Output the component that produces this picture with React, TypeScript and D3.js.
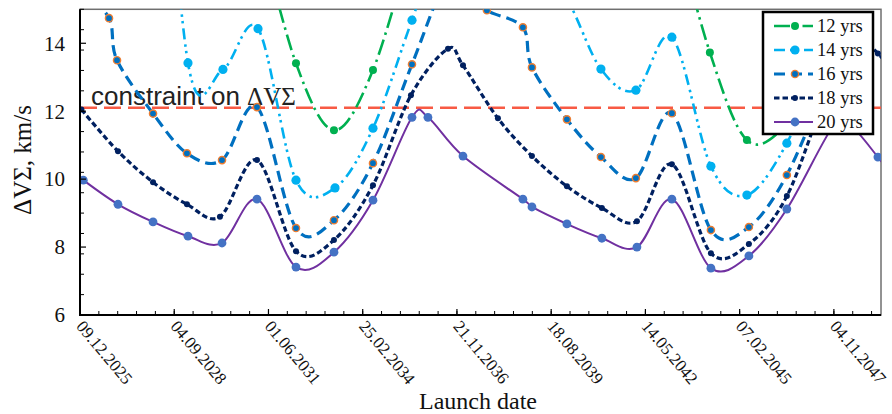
import React from "react";
import * as d3 from "d3";

// ---- data (days after 09.12.2025, ΔVΣ in km/s) ----
const xTickDays = [0, 1000, 2000, 3000, 4000, 5000, 6000, 7000, 8000];
const yTickValues = [6, 8, 10, 12, 14];
const constraintValue = 12.1;

const days12 = [1889, 2292, 2695, 3109, 3523, 3905, 6281, 6684, 7077, 7501, 8000];
const dv12: (number | null)[] = [17.5, 13.41, 11.44, 13.21, 17.0, null, 17.8, 13.73, 11.15, 11.6, 13.5];

const days14 = [775, 1146, 1517, 1889, 2292, 2706, 3109, 3523, 3905, 4435, 4796, 5167, 5528, 5899, 6281, 6695, 7077, 7501, 7915];
const dv14 = [25, 13.42, 13.23, 14.43, 9.97, 9.74, 11.5, 14.68, 17.5, 17.5, 16.5, 15.3, 13.24, 12.62, 14.18, 10.38, 9.53, 11.06, 13.8];

const days16 = [15, 308, 393, 775, 1135, 1507, 1878, 2292, 2695, 3109, 3523, 3905, 4064, 4318, 4700, 4796, 5167, 5528, 5899, 6281, 6695, 7098, 7501, 7915];
const dv16 = [15.6, 14.74, 13.5, 11.93, 10.76, 10.56, 12.12, 8.56, 8.79, 10.47, 13.38, 16.0, 15.6, 14.97, 14.47, 13.29, 11.76, 10.65, 10.03, 11.94, 8.5, 8.59, 10.12, 12.8];

const days18 = [15, 403, 775, 1135, 1485, 1878, 2292, 2695, 3109, 3512, 3905, 4064, 4435, 4796, 5167, 5538, 5910, 6281, 6695, 7098, 7501, 7915, 8233, 8467, 8700];
const dv18 = [12.05, 10.82, 9.91, 9.26, 8.89, 10.56, 7.88, 8.21, 9.82, 12.47, 13.84, 13.35, 11.79, 10.68, 9.79, 9.15, 8.76, 10.44, 7.82, 8.09, 9.5, 12.45, 14.0, 13.7, 12.8];

const days20 = [35, 403, 775, 1146, 1507, 1878, 2292, 2695, 3109, 3523, 3692, 4064, 4700, 4796, 5167, 5538, 5910, 6281, 6695, 7098, 7501, 7989, 8170, 8467, 8700];
const dv20 = [9.97, 9.26, 8.74, 8.32, 8.12, 9.41, 7.41, 7.85, 9.38, 11.82, 11.82, 10.68, 9.41, 9.18, 8.68, 8.26, 8.0, 9.41, 7.38, 7.74, 9.12, 11.55, 11.6, 10.65, 9.8];

const seriesNames = ["12 yrs", "14 yrs", "16 yrs", "18 yrs", "20 yrs"];

const START = Date.UTC(2025, 11, 9);
const fmt = d3.utcFormat("%d.%m.%Y");

const W = 892, H = 414;
const L = 80, R = 881, T = 9.3, B = 315;

const x = d3.scaleLinear().domain([0, 8500]).range([L, R]);
const y = d3.scaleLinear().domain([6, 15]).range([B, T]);

type Style = { color: string; width: number; dash: string; r: number; mfill: string; mstroke?: string; mw?: number };
const styles: Style[] = [
  { color: "#00b050", width: 2.6, dash: "16 5 2.5 5", r: 4, mfill: "#00b050" },
  { color: "#00b0f0", width: 2.6, dash: "11 5 2.5 4 2.5 5", r: 4.6, mfill: "#00b0f0" },
  { color: "#0070c0", width: 3.2, dash: "11 6", r: 3.6, mfill: "#0070c0", mstroke: "#ed7d31", mw: 1.4 },
  { color: "#002060", width: 3.2, dash: "5.5 3", r: 3, mfill: "#002060" },
  { color: "#7030a0", width: 2, dash: "none", r: 4.4, mfill: "#4472c4" },
];

const allDays = [days12, days14, days16, days18, days20];
const allVals: (number | null)[][] = [dv12, dv14, dv16, dv18, dv20];

const line = d3
  .line<[number, number | null]>()
  .defined((d) => d[1] != null)
  .x((d) => x(d[0]))
  .y((d) => y(d[1] as number))
  .curve(d3.curveCatmullRom.alpha(0));

const serif = "'Liberation Serif', 'Times New Roman', serif";
const sans = "'Liberation Sans', Arial, sans-serif";

export default function App() {
  const minorY: number[] = [];
  for (let v = 6.6; v < 15; v += 0.6) minorY.push(+v.toFixed(2));
  const minorX: number[] = [];
  for (let d = 200; d < 8500; d += 200) minorX.push(d);

  const legX = 763, legY = 12, legW = 110, legH = 122;
  const rowY = [26, 50, 74, 98, 122];

  return (
    <svg width={W} height={H} style={{ position: "absolute", left: 0, top: 0, background: "#fff" }}>
      <defs>
        <clipPath id="plot">
          <rect x={L} y={T} width={R - L} height={B - T} />
        </clipPath>
      </defs>
      {/* frame */}
      <rect x={L} y={T} width={R - L} height={B - T} fill="none" stroke="#6f6f6f" strokeWidth={1.5} />

      {/* constraint line */}
      <line x1={L} x2={R} y1={y(constraintValue)} y2={y(constraintValue)} stroke="#f85a44" strokeWidth={2.6} strokeDasharray="17 7" />
      <text x={91} y={105} fontFamily={sans} fontSize={26} fill="#222">
        constraint on <tspan fontFamily={serif} fontSize={25}>ΔVΣ</tspan>
      </text>

      {/* series */}
      <g clipPath="url(#plot)">
        {allDays.map((ds, i) => {
          const pts = ds.map((d, j) => [d, allVals[i][j]] as [number, number | null]);
          const s = styles[i];
          return (
            <g key={i}>
              <path d={line(pts) || ""} fill="none" stroke={s.color} strokeWidth={s.width} strokeDasharray={s.dash} strokeLinecap="butt" />
              {pts
                .filter((p) => p[1] != null)
                .map((p, j) => (
                  <circle key={j} cx={x(p[0])} cy={y(p[1] as number)} r={s.r} fill={s.mfill} stroke={s.mstroke || "none"} strokeWidth={s.mw || 0} />
                ))}
            </g>
          );
        })}
      </g>

      {/* axes */}
      <line x1={L} x2={L} y1={T} y2={B} stroke="#000" strokeWidth={2} />
      <line x1={L - 1} x2={R} y1={B} y2={B} stroke="#000" strokeWidth={2} />
      {minorY.map((v) => (
        <line key={"my" + v} x1={L} x2={L + 4} y1={y(v)} y2={y(v)} stroke="#000" strokeWidth={1} />
      ))}
      {yTickValues.map((v) => (
        <g key={"y" + v}>
          <line x1={L} x2={L + 6} y1={y(v)} y2={y(v)} stroke="#000" strokeWidth={1.2} />
          <text x={65} y={y(v)} dy="0.35em" textAnchor="end" fontFamily={serif} fontSize={21} fill="#111">
            {v}
          </text>
        </g>
      ))}
      {minorX.map((d) => (
        <line key={"mx" + d} x1={x(d)} x2={x(d)} y1={B} y2={B - 4} stroke="#000" strokeWidth={1} />
      ))}
      {xTickDays.map((d) => (
        <g key={"x" + d}>
          <line x1={x(d)} x2={x(d)} y1={B} y2={B - 6} stroke="#000" strokeWidth={1.2} />
          <text
            transform={`translate(${x(d)},${323}) rotate(50)`}
            dy="0.35em"
            fontFamily={serif}
            fontSize={17}
            fill="#111"
          >
            {fmt(new Date(START + d * 864e5))}
          </text>
        </g>
      ))}

      {/* axis titles */}
      <text x={478} y={409} textAnchor="middle" fontFamily={serif} fontSize={24} fill="#111">
        Launch date
      </text>
      <text transform="translate(31,160) rotate(-90)" textAnchor="middle" fontFamily={serif} fontSize={25} fill="#111">
        ΔVΣ, km/s
      </text>

      {/* legend */}
      <rect x={legX} y={legY} width={legW} height={legH} fill="#fff" stroke="#000" strokeWidth={2.5} />
      {seriesNames.map((n, i) => {
        const s = styles[i];
        return (
          <g key={n}>
            <line x1={774} x2={813} y1={rowY[i]} y2={rowY[i]} stroke={s.color} strokeWidth={s.width} strokeDasharray={s.dash} />
            <circle cx={795} cy={rowY[i]} r={s.r} fill={s.mfill} stroke={s.mstroke || "none"} strokeWidth={s.mw || 0} />
            <text x={817} y={rowY[i]} dy="0.35em" fontFamily={serif} fontSize={18.5} fill="#111">
              {n}
            </text>
          </g>
        );
      })}
    </svg>
  );
}
